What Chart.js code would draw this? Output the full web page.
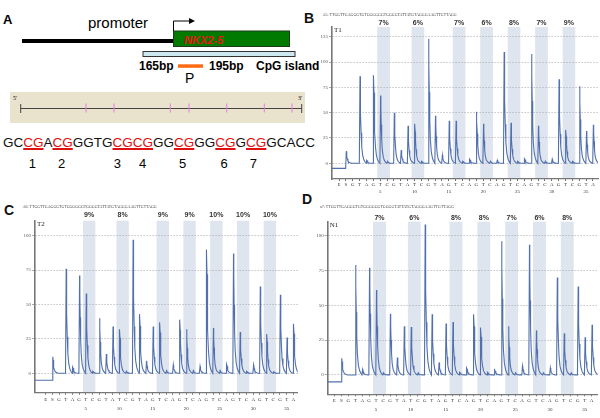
<!DOCTYPE html>
<html>
<head>
<meta charset="utf-8">
<script src="https://cdn.jsdelivr.net/npm/chart.js@4.4.0/dist/chart.umd.min.js"></script>
<style>
body { margin: 0; width: 600px; height: 418px; position: relative; overflow: hidden; background: #fff;
       font-family: "Liberation Sans", Arial, sans-serif; color: #111; }
.t { position: absolute; line-height: 1; white-space: nowrap; }
.cg { color: #e01010; text-decoration: underline; text-decoration-thickness: 1.5px; text-underline-offset: 1px; }
canvas { position: absolute; }
svg { position: absolute; left: 0; top: 0; }
</style>
</head>
<body>

<!-- Panel A: gene schematic -->
<svg width="320" height="175" font-family="Liberation Sans, Arial, sans-serif">
  <text x="3" y="24" font-size="13" font-weight="bold">A</text>
  <text x="88" y="28.3" font-size="15">promoter</text>
  <rect x="22" y="39" width="152" height="4" fill="#000"/>
  <rect x="173.5" y="31" width="116" height="15.5" fill="#007a00" stroke="#1c3a1c" stroke-width="1"/>
  <text x="184" y="44" font-size="11" font-weight="bold" font-style="italic" fill="#ee1111">NKX2-5</text>
  <path d="M173.5 31 V21 H190" stroke="#000" fill="none" stroke-width="1"/>
  <path d="M189 18 L195 21 L189 24 Z" fill="#000"/>
  <rect x="143" y="51.5" width="152" height="5" fill="#cde9ef" stroke="#333" stroke-width="1"/>
  <text x="139" y="69.5" font-size="12" font-weight="bold">165bp</text>
  <rect x="178" y="64.3" width="25" height="3.5" fill="#ff6a13"/>
  <text x="209" y="69.5" font-size="12" font-weight="bold">195bp</text>
  <text x="256" y="69.5" font-size="12" font-weight="bold">CpG island</text>
  <text x="185" y="83" font-size="14">P</text>
  <rect x="10" y="92" width="295" height="31" fill="#e9e3cd"/>
  <text x="13" y="100" font-size="6" font-family="Liberation Serif, serif">5'</text>
  <text x="298" y="100" font-size="6" font-family="Liberation Serif, serif">3'</text>
  <line x1="20.7" y1="108.5" x2="301.7" y2="108.5" stroke="#444" stroke-width="1"/>
  <line x1="20.7" y1="104" x2="20.7" y2="113" stroke="#444" stroke-width="1"/>
  <line x1="301.7" y1="104" x2="301.7" y2="113" stroke="#444" stroke-width="1"/>
  <g stroke="#e47ee0" stroke-width="1">
    <line x1="86" y1="103.5" x2="86" y2="112.5"/>
    <line x1="114" y1="103.5" x2="114" y2="112.5"/>
    <line x1="170.3" y1="103.5" x2="170.3" y2="112.5"/>
    <line x1="189" y1="103.5" x2="189" y2="112.5"/>
    <line x1="226.7" y1="103.5" x2="226.7" y2="112.5"/>
    <line x1="264.3" y1="103.5" x2="264.3" y2="112.5"/>
    <line x1="292" y1="103.5" x2="292" y2="112.5"/>
  </g>
  <g font-size="13" text-anchor="middle">
    <text x="32.3" y="168">1</text>
    <text x="61.7" y="168">2</text>
    <text x="117.3" y="168">3</text>
    <text x="142.7" y="168">4</text>
    <text x="182.7" y="168">5</text>
    <text x="224" y="168">6</text>
    <text x="253.3" y="168">7</text>
  </g>
</svg>
<div class="t" style="left:3px;top:135.6px;font-size:13.5px">GC<span class="cg">CG</span>A<span class="cg">CG</span>GGTG<span class="cg">CGCG</span>GG<span class="cg">CG</span>GG<span class="cg">CG</span>G<span class="cg">CG</span>GCACC</div>

<div class="t" style="left:304px;top:11px;font-size:14px;font-weight:bold">B</div>
<div class="t" style="left:4px;top:203px;font-size:14px;font-weight:bold">C</div>
<div class="t" style="left:302px;top:192px;font-size:14px;font-weight:bold">D</div>

<canvas id="pyroT1" width="300" height="200" style="left:300px;top:0px"></canvas>
<canvas id="pyroT2" width="300" height="218" style="left:0px;top:200px"></canvas>
<canvas id="pyroN1" width="300" height="218" style="left:300px;top:200px"></canvas>

<script>
// Dispensation order: E (enzyme), S (substrate), then nucleotides 1..36
const dispensations = ['E','S','G','T','A','G','T','C','G','T','A','T','C','G','T','A','G','T','C','A',
                       'G','T','C','A','G','T','C','A','G','T','C','A','G','T','C','G','T','A'];

// Peak heights, from S (position 0) to the last A (position 36)
const peaksT1 = [12, 0, 86, 3, 87, 67, 2, 50, 13, 37, 39, 2, 123, 47, 8, 42, 42, 2, 4, 51,
                 39, 2, 3, 110, 40, 2, 4.5, 108, 37, 2, 4, 83, 33, 2, 76, 32, 38];
const peaksT2 = [12, 0, 76, 4.5, 71, 58, 1.5, 40, 14, 34, 32, 1.5, 97, 43, 9, 34, 37, 2, 6, 39,
                 32, 2, 5, 90, 33, 2, 6.5, 87, 30, 1.5, 6, 63, 28.5, 1.5, 57, 26, 36];
const peaksN1 = [12, 0, 79, 4, 77, 61, 1.5, 44, 12.5, 35, 34.5, 1.5, 108, 43.5, 9, 37, 38, 2, 5, 43.5,
                 34, 2, 4.5, 96, 35, 1.5, 6.5, 93.5, 32, 1.5, 5, 70, 30, 1.5, 63.5, 27, 36];

// CpG sites: the T / C dispensation pair that is shaded
const cpgSites = [[5, 6], [10, 11], [16, 17], [20, 21], [24, 25], [28, 29], [32, 33]];
const methT1 = ['7%', '6%', '7%', '6%', '8%', '7%', '9%'];
const methT2 = ['9%', '8%', '9%', '9%', '10%', '10%', '10%'];
const methN1 = ['7%', '6%', '8%', '8%', '7%', '6%', '8%'];

const yTicksT1 = [0, 25, 50, 75, 100, 125];
const yTicksT2 = [0, 25, 50, 75, 100];
const yTicksN1 = [0, 25, 50, 75, 100];

const seqHeaders = ['A5: TTGGTTGAGGGTGTGGGGGGTGGGGTATTATGTAGGGAAGTTGTTAGG',
                    'A6: TTGGTTGAGGGTGTGGGGGGTGGGGTATTATGTAGGGAAGTTGTTAGG',
                    'a7: TTGGTTGAGGGTGTGGGGGGTGGGGTATTATGTAGGGAAGTTGTTAGG'];

// shape of one pyrogram peak (offset from dispensation, fraction of height) - style only
const peakShape = [[-0.03, 0], [0.06, 1], [0.1, 0.8], [0.15, 0.57], [0.22, 0.35], [0.31, 0.19],
                   [0.45, 0.09], [0.62, 0.04], [0.8, 0.015], [0.96, 0]];

function buildTrace(heights, xMin) {
    const pts = [{x: xMin, y: -5}];
    heights.forEach(function(h, i) {
        peakShape.forEach(function(s, k) {
            const y = (i === 0 && k === 0) ? -5 : h * s[1];
            pts.push({x: i + s[0], y: y});
        });
    });
    return pts;
}

function decorPlugin(o) {
    return {
        id: 'pyroDecor',
        beforeDraw: function(chart) {
            const ctx = chart.ctx, a = chart.chartArea, x = chart.scales.x;
            ctx.save();
            ctx.fillStyle = '#dee5ef';
            cpgSites.forEach(function(s) {
                const x1 = x.getPixelForValue(s[0] - 0.43);
                const x2 = x.getPixelForValue(s[1] + 0.42);
                ctx.fillRect(x1, a.top, x2 - x1, a.bottom - a.top);
            });
            ctx.restore();
        },
        afterDraw: function(chart) {
            const ctx = chart.ctx, a = chart.chartArea, x = chart.scales.x;
            ctx.save();
            // sequence to analyse
            ctx.fillStyle = '#444';
            ctx.font = '5px "Liberation Serif"';
            ctx.textBaseline = 'middle';
            ctx.textAlign = 'left';
            ctx.fillText(o.header, o.headerX, o.headerY, 134);
            // methylation percentages
            ctx.fillStyle = '#333';
            ctx.font = 'bold 7px "Liberation Sans"';
            ctx.textAlign = 'center';
            cpgSites.forEach(function(s, i) {
                const cx = (x.getPixelForValue(s[0] - 0.43) + x.getPixelForValue(s[1] + 0.42)) / 2;
                ctx.fillText(o.meth[i], cx, o.pctY);
            });
            // sample name
            ctx.fillStyle = '#222';
            ctx.font = '7px "Liberation Serif"';
            ctx.textAlign = 'left';
            ctx.fillText(o.name, a.left + 2, a.top + 3);
            ctx.restore();
        }
    };
}

function initPyrogram(id, o) {
    return new Chart(document.getElementById(id), {
        type: 'line',
        data: {
            datasets: [{
                data: buildTrace(o.peaks, o.xMin),
                borderColor: '#5170ad',
                borderWidth: 1.1,
                pointRadius: 0,
                tension: 0,
                fill: false
            }]
        },
        options: {
            responsive: false,
            animation: false,
            devicePixelRatio: 1,
            events: [],
            layout: {
                padding: { top: o.top, right: o.right, left: 0, bottom: 0 }
            },
            plugins: {
                legend: { display: false },
                tooltip: { enabled: false }
            },
            scales: {
                x: {
                    type: 'linear',
                    min: o.xMin,
                    max: o.xMax,
                    afterBuildTicks: function(s) {
                        s.ticks = dispensations.map(function(d, i) { return {value: i - 1}; });
                    },
                    afterFit: function(s) { s.height = o.xAxisH; },
                    ticks: {
                        autoSkip: false,
                        maxRotation: 0,
                        padding: 0,
                        color: '#333',
                        font: { family: 'Liberation Serif', size: 5, lineHeight: o.tickLH },
                        callback: function(v) {
                            const n = (v > 0 && v % 5 === 0) ? String(v) : '';
                            return [dispensations[v + 1], n];
                        }
                    },
                    grid: { drawOnChartArea: false, tickLength: 2, color: '#666' },
                    border: { color: '#777', width: 1.2 }
                },
                y: {
                    min: o.yMin,
                    max: o.yMax,
                    afterBuildTicks: function(s) {
                        s.ticks = o.yTicks.map(function(v) { return {value: v}; });
                    },
                    afterFit: function(s) { s.width = o.yAxisW; },
                    ticks: {
                        padding: 1,
                        color: '#555',
                        font: { family: 'Liberation Serif', size: 5 }
                    },
                    grid: { color: '#a8a8a8', tickLength: 3 },
                    border: { color: '#777', width: 1.6, dash: [1, 2] }
                }
            }
        },
        plugins: [decorPlugin(o)]
    });
}

document.addEventListener('DOMContentLoaded', function() {
    initPyrogram('pyroT1', {
        peaks: peaksT1, meth: methT1, yTicks: yTicksT1, name: 'T1', header: seqHeaders[0],
        xMin: -2.02, xMax: 36.73, yMin: -15.5, yMax: 134.6,
        top: 27, right: 2, xAxisH: 21, yAxisW: 32, tickLH: 1.4,
        headerX: 22.7, headerY: 15, pctY: 23.5
    });
    initPyrogram('pyroT2', {
        peaks: peaksT2, meth: methT2, yTicks: yTicksT2, name: 'T2', header: seqHeaders[1],
        xMin: -2.6, xMax: 36.65, yMin: -14.1, yMax: 110.9,
        top: 20.7, right: 2.3, xAxisH: 25.3, yAxisW: 35, tickLH: 1.8,
        headerX: 22.7, headerY: 6.7, pctY: 15.5
    });
    initPyrogram('pyroN1', {
        peaks: peaksN1, meth: methN1, yTicks: yTicksN1, name: 'N1', header: seqHeaders[2],
        xMin: -1.96, xMax: 36.87, yMin: -13.9, yMax: 110.05,
        top: 21.7, right: 2.3, xAxisH: 23.7, yAxisW: 27.7, tickLH: 1.8,
        headerX: 20, headerY: 6.7, pctY: 18
    });
});
</script>
</body>
</html>
